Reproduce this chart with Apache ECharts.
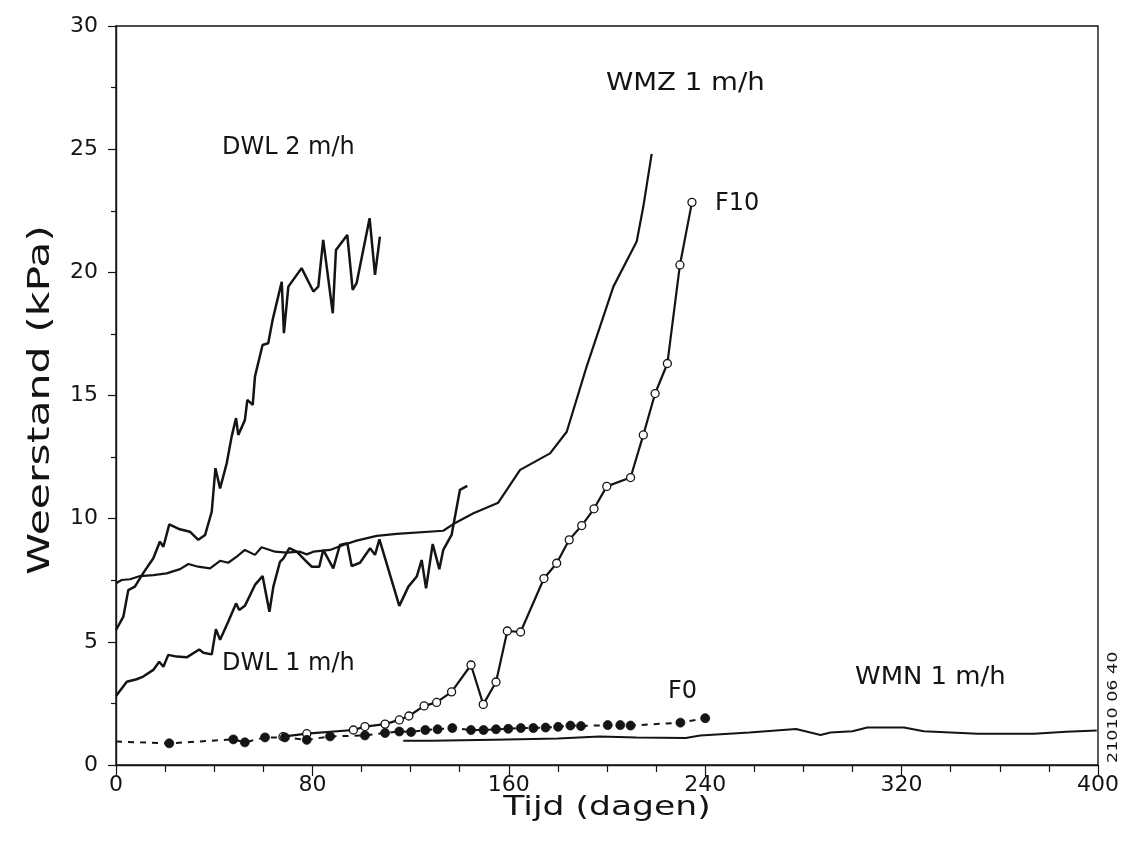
<!DOCTYPE html>
<html>
<head>
<meta charset="utf-8">
<script src="https://cdn.jsdelivr.net/npm/echarts@6/dist/echarts.min.js"></script>
<style>
html,body{margin:0;padding:0;background:#fff;}
#chart{width:1125px;height:844px;}
</style>
</head>
<body>
<div id="chart"></div>
<script>
// ---- data (days, kPa) ----
const xTicks = [0, 80, 160, 240, 320, 400];
const yTicks = [0, 5, 10, 15, 20, 25, 30];

const dwl2Days = [0,3,5,7.7,11,15.2,17.9,19.3,21.7,26,30.1,33.5,36.3,39,40.5,42.4,45.1,47.1,48.9,49.8,52.5,53.5,55.7,56.6,59.7,62,63.8,67.5,68.4,70.2,75.6,80.4,82.4,84.4,88.3,89.6,94.2,96.4,98,103.3,105.5,107.5];
const dwl2Vals = [5.48,6.02,7.1,7.24,7.78,8.39,9.07,8.86,9.77,9.57,9.47,9.14,9.34,10.28,12.05,11.23,12.25,13.33,14.08,13.4,14.0,14.82,14.62,15.77,17.05,17.12,18.07,19.62,17.53,19.42,20.17,19.22,19.42,21.32,18.34,20.91,21.52,19.29,19.56,22.2,19.9,21.45];

const dwl1Days = [0,4.4,8.4,11.1,15.2,17.6,19.3,21.3,24.7,28.8,33.9,35.6,39,40.7,42.4,45.7,48.9,50.2,52.5,56.6,59.7,62.5,64.1,66.8,68.2,70.6,73.6,77.7,79.7,82.8,84.4,88.5,91.2,94.2,96,99.4,103.5,105.5,107.3,115.4,119.1,122.5,124.5,126.3,129,131.7,133.3,136.7,140.1,143.1];
const dwl1Vals = [2.8,3.38,3.48,3.59,3.86,4.19,3.99,4.47,4.4,4.37,4.69,4.56,4.49,5.51,5.08,5.82,6.56,6.29,6.46,7.31,7.67,6.22,7.24,8.25,8.39,8.8,8.66,8.25,8.05,8.05,8.73,7.98,8.93,9.0,8.08,8.21,8.8,8.53,9.16,6.46,7.24,7.65,8.32,7.17,8.97,7.95,8.73,9.34,11.17,11.33];

const wmzDays = [0,2.3,5.7,9.8,15.2,20.6,26.1,29.5,33.5,38.3,42.4,45.7,49.2,52.5,56.6,59.3,64.8,69.5,74.9,77.7,80.4,87.2,92.6,98,106.2,114.3,133.3,137.4,145.6,155.7,164.6,176.8,183.6,191.7,202.6,212.1,214.8,218.2];
const wmzVals = [7.38,7.51,7.54,7.67,7.71,7.78,7.95,8.16,8.05,7.98,8.29,8.21,8.46,8.73,8.53,8.84,8.66,8.62,8.66,8.55,8.66,8.73,8.93,9.11,9.3,9.38,9.51,9.78,10.22,10.65,11.98,12.65,13.53,16.17,19.42,21.25,22.67,24.81];

const f10Days = [68,77.7,96.7,101.4,109.6,115.4,119.3,125.5,130.6,136.7,144.6,149.6,154.8,159.4,164.8,174.3,179.5,184.6,189.7,194.7,199.9,209.6,214.8,219.6,224.6,229.7,234.6];
const f10Vals = [1.15,1.27,1.42,1.56,1.66,1.83,1.99,2.4,2.54,2.97,4.06,2.46,3.37,5.44,5.4,7.57,8.19,9.14,9.72,10.4,11.31,11.67,13.4,15.08,16.3,20.3,22.84];

const f0Days = [0,21.7,47.8,52.5,60.7,68.8,77.7,87.2,101.4,109.6,115.4,120.2,126,131,137,144.6,149.7,154.8,159.8,164.9,170,175,180.1,185.1,189.4,200.3,205.4,209.6,229.9,240];
const f0Vals = [0.95,0.88,1.04,0.92,1.12,1.12,1.02,1.16,1.2,1.3,1.36,1.34,1.42,1.45,1.5,1.42,1.42,1.45,1.47,1.5,1.5,1.52,1.55,1.6,1.58,1.62,1.62,1.6,1.72,1.9];

const wmnDays = [117,128,154,180,197,212,232,238,258,277,287,291,300,306,321,329,351,374,387,399.5];
const wmnVals = [0.98,0.98,1.03,1.08,1.16,1.12,1.1,1.2,1.32,1.46,1.22,1.32,1.37,1.52,1.52,1.37,1.27,1.27,1.35,1.4];

const zip = (a, b) => a.map((x, i) => [x, b[i]]);

const FONT = '"DejaVu Sans", Verdana, sans-serif';
const INK = '#141414';

const chart = echarts.init(document.getElementById('chart'), null, {renderer: 'canvas'});

function lineSeries(name, data, extra) {
  return Object.assign({
    name: name,
    type: 'line',
    data: data,
    symbol: 'none',
    lineStyle: {color: INK, width: 2.5},
    itemStyle: {color: INK},
    animation: false,
    z: 3
  }, extra || {});
}

// F0: the starting point (day 0) carries no marker
const f0Data = zip(f0Days, f0Vals).map((p, i) => i === 0 ? {value: p, symbol: 'none'} : p);

const option = {
  animation: false,
  backgroundColor: '#fff',
  grid: {left: 116, right: 27, top: 26, bottom: 79, show: true, borderColor: INK, borderWidth: 1.4},
  xAxis: [{
    type: 'value', min: 0, max: 400, interval: 80,
    axisLine: {show: true, lineStyle: {color: INK, width: 1.4}},
    axisTick: {show: true, length: 11, lineStyle: {color: INK, width: 1.2}},
    minorTick: {show: true, splitNumber: 4, length: 7, lineStyle: {color: INK, width: 1.2}},
    splitLine: {show: false},
    axisLabel: {fontFamily: FONT, fontSize: 22, color: INK, margin: 9}
  }],
  yAxis: [{
    type: 'value', min: 0, max: 30, interval: 5,
    axisLine: {show: true, lineStyle: {color: INK, width: 1.4}},
    axisTick: {show: true, length: 8, lineStyle: {color: INK, width: 1.2}},
    minorTick: {show: true, splitNumber: 2, length: 5, lineStyle: {color: INK, width: 1.2}},
    splitLine: {show: false},
    axisLabel: {fontFamily: FONT, fontSize: 22, color: INK, margin: 18}
  }],
  graphic: [
    {type: 'text', x: 41, y: 400, rotation: Math.PI / 2, scaleX: 1.42,
     style: {text: 'Weerstand (kPa)', font: '30px ' + FONT, fill: INK, textAlign: 'center', textVerticalAlign: 'middle'}},
    {type: 'text', x: 607, y: 808, scaleX: 1.28,
     style: {text: 'Tijd (dagen)', font: '27px ' + FONT, fill: INK, textAlign: 'center', textVerticalAlign: 'middle'}},
    {type: 'text', left: 222, top: 136, style: {text: 'DWL 2 m/h', font: '24px ' + FONT, fill: INK}},
    {type: 'text', x: 606, y: 72, scaleX: 1.15, style: {text: 'WMZ 1 m/h', font: '24px ' + FONT, fill: INK}},
    {type: 'text', left: 715, top: 192, style: {text: 'F10', font: '24px ' + FONT, fill: INK}},
    {type: 'text', left: 222, top: 652, style: {text: 'DWL 1 m/h', font: '24px ' + FONT, fill: INK}},
    {type: 'text', left: 668, top: 680, style: {text: 'F0', font: '24px ' + FONT, fill: INK}},
    {type: 'text', x: 855, y: 666, scaleX: 1.08, style: {text: 'WMN 1 m/h', font: '24px ' + FONT, fill: INK}},
    {type: 'text', x: 1106, y: 763, rotation: Math.PI / 2, scaleX: 1.25,
     style: {text: '21010 06 40', font: '14px ' + FONT, fill: INK, textVerticalAlign: 'top'}}
  ],
  series: [
    lineSeries('WMN 1 m/h', zip(wmnDays, wmnVals), {lineStyle: {color: INK, width: 2}}),
    lineSeries('WMZ 1 m/h', zip(wmzDays, wmzVals), {lineStyle: {color: INK, width: 2.2}}),
    lineSeries('DWL 1 m/h', zip(dwl1Days, dwl1Vals)),
    lineSeries('DWL 2 m/h', zip(dwl2Days, dwl2Vals)),
    lineSeries('F10', zip(f10Days, f10Vals), {
      symbol: 'circle', symbolSize: 8, showAllSymbol: true,
      lineStyle: {color: INK, width: 2.2},
      itemStyle: {color: '#fff', borderColor: INK, borderWidth: 1.3}, z: 4
    }),
    lineSeries('F0', f0Data, {
      symbol: 'circle', symbolSize: 9, showAllSymbol: true,
      lineStyle: {color: INK, width: 2, type: [6, 6]},
      itemStyle: {color: INK, borderColor: INK, borderWidth: 0.8}, z: 5
    })
  ]
};
chart.setOption(option);
</script>
</body>
</html>
